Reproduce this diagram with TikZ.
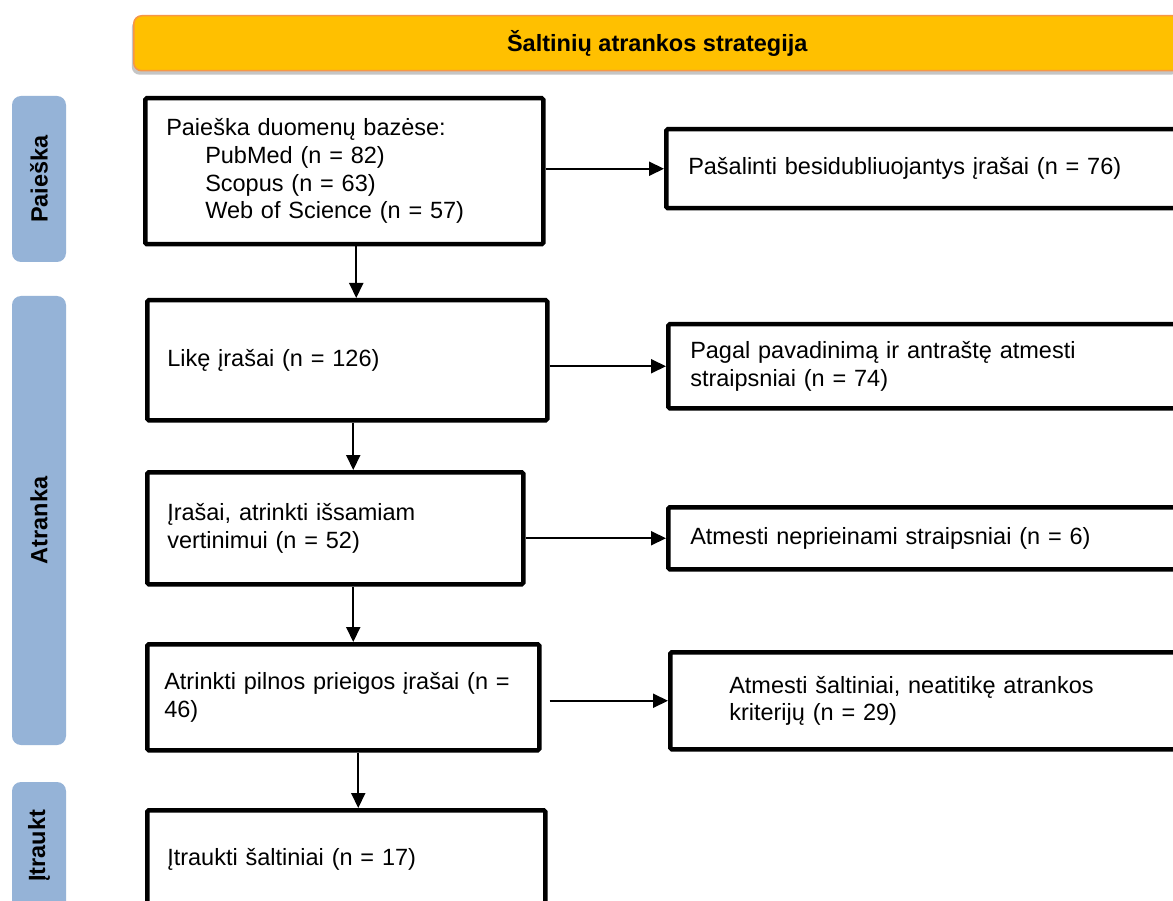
\documentclass[tikz,border=0pt]{standalone}
\usepackage{fontspec}
\setmainfont{Liberation Sans}
\usetikzlibrary{arrows.meta,shadows}
\definecolor{bannerfill}{HTML}{FFC000}
\definecolor{bannerline}{HTML}{F79646}
\definecolor{phasefill}{HTML}{95B3D7}
\tikzset{
  stepbox/.style={draw, line width=4.5pt, rounded corners=1.5pt, align=left, anchor=north west, inner ysep=0pt, font=\fontsize{23.5}{27.6}\selectfont},
  phase/.style={fill=phasefill, rounded corners=9pt, rotate=90, inner sep=0pt, font=\fontsize{23.5}{27.6}\selectfont\bfseries},
  flow/.style={-{Triangle[length=15pt,width=14pt]}, line width=2pt}
}
\begin{document}
\begin{tikzpicture}[x=1pt,y=-1pt]
  \useasboundingbox (0,0) rectangle (1173,901);
  \clip (0,0) rectangle (1173,901);
  \fill[white] (0,0) rectangle (1173,901);

  % banner
  \node[fill=bannerfill, draw=bannerline, line width=1.5pt, rounded corners=8pt, anchor=north west,
        minimum width=1047, minimum height=55, font=\fontsize{23.5}{27.6}\selectfont\bfseries,
        drop shadow={shadow xshift=-2pt, shadow yshift=-4pt, opacity=0.45}] (title) at (133,15) {Šaltinių atrankos strategija};

  % phases
  \node[phase, minimum width=166, minimum height=54] (phsearch) at (39,179) {Paieška};
  \node[phase, minimum width=449, minimum height=54] (phscreen) at (39,520.5) {Atranka};
  \node[phase, minimum width=128, minimum height=54] (phincl) at (39,846) {Įtraukt};

  % main column
  \node[stepbox, text width=356, inner xsep=21, minimum height=146] (search) at (143,96)
    {Paieška duomenų bazėse:\\
     \hspace*{39pt}PubMed (n = 82)\\
     \hspace*{39pt}Scopus (n = 63)\\
     \hspace*{39pt}Web of Science (n = 57)\\[-6pt]};
  \node[stepbox, text width=360, inner xsep=20, minimum height=120] (remaining) at (145,298) {Likę įrašai (n = 126)};
  \node[stepbox, text width=336, inner xsep=20, minimum height=112] (fulltext) at (145,470) {Įrašai, atrinkti išsamiam\\ vertinimui (n = 52)};
  \node[stepbox, text width=358, inner xsep=17, minimum height=106] (fullaccess) at (145,642) {Atrinkti pilnos prieigos įrašai (n =\\ 46)};
  \node[stepbox, text width=358, inner xsep=20, minimum height=98] (included) at (145,808) {Įtraukti šaltiniai (n = 17)};

  % excluded column
  \node[stepbox, text width=496, inner xsep=22, minimum height=79] (duplicates) at (664,127) {Pašalinti besidubliuojantys įrašai (n = 76)};
  \node[stepbox, text width=496, inner xsep=22, minimum height=84] (titleexcl) at (666,322) {Pagal pavadinimą ir antraštę atmesti\\ straipsniai (n = 74)};
  \node[stepbox, text width=496, inner xsep=22, minimum height=62] (unavailable) at (666,505) {Atmesti neprieinami straipsniai (n = 6)};
  \node[stepbox, text width=422, inner xsep=59, minimum height=97] (criteria) at (668,650) {Atmesti šaltiniai, neatitikę atrankos\\ kriterijų (n = 29)};

  % arrows down
  \draw[flow] ([xshift=12pt]search.south) -- ([xshift=12pt]search.south |- remaining.north);
  \draw[flow] ([xshift=6pt]remaining.south) -- ([xshift=6pt]remaining.south |- fulltext.north);
  \draw[flow] ([xshift=18pt]fulltext.south) -- ([xshift=18pt]fulltext.south |- fullaccess.north);
  \draw[flow] ([xshift=15pt]fullaccess.south) -- ([xshift=15pt]fullaccess.south |- included.north);

  % arrows right
  \draw[flow] (search.east |- duplicates.west) -- (duplicates.west);
  \draw[flow] (remaining.east |- titleexcl.west) -- (titleexcl.west);
  \draw[flow] (fulltext.east |- unavailable.west) -- (unavailable.west);
  \draw[flow, shorten <=8pt] (fullaccess.east |- criteria.west) -- (criteria.west);
\end{tikzpicture}
\end{document}
